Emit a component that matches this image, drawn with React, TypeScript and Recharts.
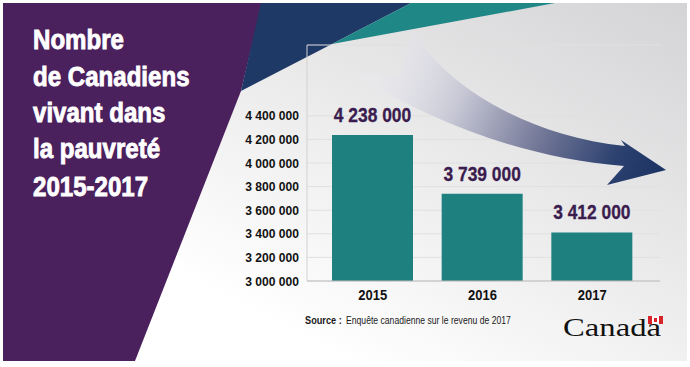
import React from "react";
import { BarChart, Bar, XAxis, YAxis, CartesianGrid, LabelList } from "recharts";

const years = ["2015", "2016", "2017"];
const poorCounts = [4238000, 3739000, 3412000];
const yTicks = [3000000, 3200000, 3400000, 3600000, 3800000, 4000000, 4200000, 4400000];
const titleLines = ["Nombre", "de Canadiens", "vivant dans", "la pauvreté", "2015-2017"];
const sourceLabel = "Source :";
const sourceText = "Enquête canadienne sur le revenu de 2017";

// no narrow face installed, so squeeze Liberation Sans horizontally instead
const SANS = "'Liberation Sans', Arial, sans-serif";

const fmt = (v: any) => String(v).replace(/\B(?=(\d{3})+(?!\d))/g, " ");

const data = years.map((y, i) => ({ year: y, count: poorCounts[i] }));

const YTick = ({ x, y, payload }: any) => (
  <text
    transform={`translate(${x},${y}) scale(0.93,1)`}
    dy={4.5}
    textAnchor="end"
    fill="#111"
    fontSize={13}
    fontWeight={700}
    fontFamily={SANS}
  >
    {fmt(payload.value)}
  </text>
);

const XTick = ({ x, y, payload }: any) => (
  <text
    transform={`translate(${x},${y}) scale(0.84,1)`}
    dy={11}
    textAnchor="middle"
    fill="#111"
    fontSize={15.5}
    fontWeight={700}
    fontFamily={SANS}
  >
    {payload.value}
  </text>
);

const ValueLabel = ({ x, y, width, value }: any) => (
  <text
    transform={`translate(${x + width / 2},${y - 13}) scale(0.87,1)`}
    textAnchor="middle"
    fill="#3a1c4e"
    stroke="#3a1c4e"
    strokeWidth={0.3}
    fontSize={20}
    fontWeight={700}
    fontFamily={SANS}
  >
    {fmt(value)}
  </text>
);

export default function App() {
  return (
    <div style={{ position: "absolute", left: 0, top: 0, width: 690, height: 367, background: "#fff", overflow: "hidden" }}>
      {/* backdrop: grey gradient, purple panel, navy/teal wedges */}
      <svg width={690} height={367} style={{ position: "absolute", left: 0, top: 0 }}>
        <defs>
          <linearGradient id="bg" x1="0" y1="1" x2="1" y2="0">
            <stop offset="0.25" stopColor="#ffffff" />
            <stop offset="1" stopColor="#d4d4d6" />
          </linearGradient>
        </defs>
        <rect x={3} y={3} width={684} height={358} fill="url(#bg)" />
        <polygon points="3,3 262,3 241,91 135,361 3,361" fill="#4a205d" />
        <polygon points="261,3 411,3 332,44 241,91" fill="#1f3966" />
        <polygon points="411,3 555,3 332,44" fill="#1f8786" />
      </svg>

      <div style={{ position: "absolute", left: 0, top: 0 }}>
        <BarChart width={690} height={367} data={data} margin={{ top: 45, right: 30, bottom: 56, left: 247 }}>
          <CartesianGrid vertical={false} stroke="#e0e0e0" />
          <XAxis
            dataKey="year"
            height={30}
            axisLine={{ stroke: "#bcbcbc" }}
            tickLine={false}
            padding={{ left: 11, right: 13 }}
            tick={<XTick />}
          />
          <YAxis
            type="number"
            domain={[3000000, 5000000]}
            ticks={yTicks}
            interval={0}
            width={60}
            axisLine={{ stroke: "#d2d2d2" }}
            tickLine={false}
            tick={<YTick />}
          />
          <Bar dataKey="count" fill="#1e807f" barSize={81} isAnimationActive={false}>
            <LabelList dataKey="count" content={<ValueLabel />} />
          </Bar>
        </BarChart>
      </div>

      {/* decoration + text */}
      <svg width={690} height={367} style={{ position: "absolute", left: 0, top: 0, pointerEvents: "none" }}>
        <defs>
          <linearGradient id="arrowGrad" gradientUnits="userSpaceOnUse" x1="380" y1="45" x2="660" y2="170">
            <stop offset="0" stopColor="#eeeef3" stopOpacity={0.3} />
            <stop offset="0.3" stopColor="#cacad7" />
            <stop offset="0.6" stopColor="#737898" />
            <stop offset="0.85" stopColor="#2c416f" />
            <stop offset="1" stopColor="#1c3464" />
          </linearGradient>
        </defs>
        <path
          d="M 354 75 L 400 76 L 413 30 C 440 80, 520 135, 625 146 L 621 140 L 666 170 L 607 185 L 624 166 C 520 158, 430 120, 354 75 Z"
          fill="url(#arrowGrad)"
        />

        {titleLines.map((t, i) => (
          <text
            key={t}
            transform={`translate(33,${[49, 86, 122, 158, 196][i]}) scale(0.86,1)`}
            fill="#fff"
            stroke="#fff"
            strokeWidth={0.9}
            fontSize={28}
            fontWeight={700}
            fontFamily={SANS}
          >
            {t}
          </text>
        ))}

        <text
          transform="translate(305,324) scale(0.8,1)"
          fontSize={11.5}
          fontWeight={700}
          fill="#1a1a1a"
          fontFamily={SANS}
        >
          {sourceLabel}
        </text>
        <text
          transform="translate(346,324) scale(0.75,1)"
          fontSize={11.5}
          fill="#1a1a1a"
          fontFamily={SANS}
        >
          {sourceText}
        </text>

        <text
          x={563}
          y={336}
          fontSize={26}
          fill="#111"
          fontFamily="'Liberation Serif', 'Times New Roman', serif"
          textLength={98}
          lengthAdjust="spacingAndGlyphs"
        >
          Canada
        </text>
        <rect x={648} y={316} width={4} height={8} fill="#d8232a" />
        <rect x={652} y={316} width={7} height={8} fill="#fff" />
        <rect x={659} y={316} width={4} height={8} fill="#d8232a" />
        <rect x={654} y={318} width={3} height={4} fill="#d8232a" />
      </svg>
    </div>
  );
}
